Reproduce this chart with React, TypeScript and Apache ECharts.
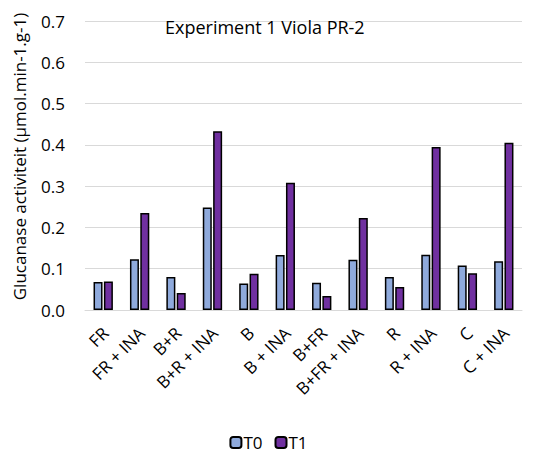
import React, { useEffect, useRef } from "react";
import * as echarts from "echarts";

const categories = [
  "FR", "FR + INA", "B+R", "B+R + INA", "B", "B + INA",
  "B+FR", "B+FR + INA", "R", "R + INA", "C", "C + INA",
];
const t0Values = [0.068, 0.123, 0.080, 0.248, 0.064, 0.133, 0.066, 0.122, 0.080, 0.134, 0.108, 0.118];
const t1Values = [0.069, 0.235, 0.041, 0.433, 0.088, 0.308, 0.034, 0.223, 0.056, 0.395, 0.089, 0.405];
const seriesNames = ["T0", "T1"];
const titleText = "Experiment 1 Viola PR-2";
const yAxisTitle = "Glucanase activiteit (µmol.min-1.g-1)";

const FONT = "Open Sans";

export default function App() {
  const ref = useRef<HTMLDivElement>(null);
  useEffect(() => {
    if (!ref.current) return;
    const chart = echarts.init(ref.current, null, { renderer: "svg" });
    chart.setOption({
      animation: false,
      backgroundColor: "#ffffff",
      textStyle: { fontFamily: FONT },
      title: {
        text: titleText,
        left: 160,
        top: 13,
        textStyle: { fontFamily: FONT, fontSize: 18, fontWeight: "normal", color: "#000" },
      },
      legend: {
        data: seriesNames,
        bottom: 3,
        padding: 0,
        left: "center",
        itemWidth: 11,
        itemHeight: 11,
        itemGap: 12,
        textStyle: { fontFamily: FONT, fontSize: 17, color: "#000", padding: [0, 0, 0, -3] },
      },
      grid: { left: 85, right: 15, top: 21, bottom: 144 },
      xAxis: {
        type: "category",
        data: categories,
        axisLine: { lineStyle: { color: "#d9d9d9", width: 1 } },
        axisTick: { show: false },
        axisLabel: { show: false },
      },
      yAxis: {
        type: "value",
        min: 0,
        max: 0.7,
        interval: 0.1,
        name: yAxisTitle,
        nameLocation: "middle",
        nameGap: 57,
        nameTextStyle: { fontFamily: FONT, fontSize: 17, color: "#000", padding: [0, 0, 0, 18] },
        axisLine: { show: false },
        axisTick: { show: false },
        axisLabel: {
          color: "#000",
          fontFamily: FONT,
          fontSize: 17,
          margin: 20,
          formatter: (v: number) => v.toFixed(1),
        },
        splitLine: { lineStyle: { color: "#d9d9d9", width: 1 } },
      },
      series: [
        {
          name: seriesNames[0],
          type: "bar",
          data: t0Values,
          barWidth: 9,
          barGap: "15%",
          itemStyle: { color: "#8FAADC", borderColor: "#000", borderWidth: 1.5 },
        },
        {
          name: seriesNames[1],
          type: "bar",
          data: t1Values,
          barWidth: 9,
          barGap: "15%",
          itemStyle: { color: "#7030A0", borderColor: "#000", borderWidth: 1.5 },
        },
      ],
    });

    // Rotated (45°) category labels, anchored at each category's pixel position from the axis scale
    const axisY = chart.convertToPixel({ yAxisIndex: 0 }, 0) as number;
    const labels = categories.map((c) => {
      const cx = chart.convertToPixel({ xAxisIndex: 0 }, c) as number;
      return {
        type: "text",
        x: cx + 2,
        y: axisY + 20,
        rotation: Math.PI / 4,
        silent: true,
        style: {
          text: c,
          fontFamily: FONT,
          fontSize: 17,
          fill: "#000",
          align: "right",
          verticalAlign: "middle",
        },
      };
    });
    chart.setOption({ graphic: labels });

    return () => chart.dispose();
  }, []);
  return (
    <div
      ref={ref}
      style={{ position: "absolute", left: 0, top: 0, width: 537, height: 454 }}
    />
  );
}
